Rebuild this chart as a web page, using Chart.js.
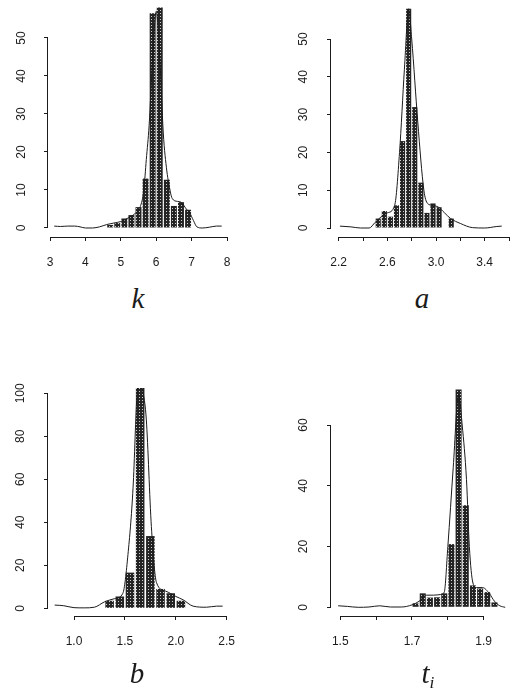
<!DOCTYPE html>
<html>
<head>
<meta charset="utf-8">
<script src="https://cdn.jsdelivr.net/npm/chart.js@4.4.1/dist/chart.umd.min.js"></script>
<style>
  html, body { margin: 0; padding: 0; background: #fff; }
  #page { position: relative; width: 516px; height: 693px; overflow: hidden; background: #fff; }
  #page canvas { position: absolute; }
  .xname {
    position: absolute;
    font: italic 29px "Liberation Serif", "DejaVu Serif", serif;
    line-height: 1;
    color: #1b1b1b;
    transform: translateX(-50%);
    white-space: nowrap;
  }
  .xname sub { font-size: 0.6em; vertical-align: -0.3em; }
</style>
</head>
<body>
<div id="page">
  <canvas id="panel-k" width="258" height="280" style="left:0;top:0"></canvas>
  <canvas id="panel-a" width="258" height="280" style="left:258px;top:0"></canvas>
  <canvas id="panel-b" width="258" height="330" style="left:0;top:330px"></canvas>
  <canvas id="panel-t" width="258" height="330" style="left:258px;top:330px"></canvas>
  <div class="xname" style="left:138px;top:284px">k</div>
  <div class="xname" style="left:422px;top:284px">a</div>
  <div class="xname" style="left:137px;top:659px">b</div>
  <div class="xname" style="left:428px;top:659px">t<sub>i</sub></div>
</div>
<script>
// histogram bins (bin centres) and heights, plus density curves
const kBins = [4.7, 4.9, 5.1, 5.3, 5.5, 5.7, 5.9, 6.1, 6.3, 6.5, 6.7, 6.9];
const kCounts = [0.8, 1.3, 2.5, 3.4, 5.5, 13, 56.5, 58, 12.7, 5.8, 6.8, 4.8];
const kCurveX = [3.12, 3.3, 3.5, 3.7, 3.85, 4.0, 4.2, 4.4, 4.6, 4.8, 5.0, 5.2, 5.4, 5.55, 5.65, 5.72, 5.8, 5.9, 6.0, 6.1, 6.2, 6.3, 6.35, 6.45, 6.6, 6.7, 6.85, 6.95, 7.05, 7.15, 7.3, 7.5, 7.7, 7.85];
const kCurveY = [0.5, 0.4, 0.5, 0.5, 0.3, 0.0, 0.0, 0.3, 0.9, 1.3, 1.7, 2.6, 3.8, 5.6, 10, 18, 27, 45, 57, 45, 25, 15, 12, 7.8, 7, 6.8, 5, 3.9, 2, 0.3, 0, 0.2, 0.5, 0.5];
const kTicks = [3, 4, 5, 6, 7, 8];
const kTickLabels = ['3', '4', '5', '6', '7', '8'];
const kYTicks = [0, 10, 20, 30, 40, 50];

const aBins = [2.525, 2.575, 2.625, 2.675, 2.725, 2.775, 2.825, 2.875, 2.925, 2.975, 3.025, 3.075, 3.125];
const aCounts = [2.5, 4.5, 3, 6, 23, 58, 32, 12, 4, 6.5, 5.5, 0, 2.5];
const aCurveX = [2.21, 2.3, 2.38, 2.45, 2.5, 2.55, 2.6, 2.66, 2.7, 2.74, 2.775, 2.8, 2.85, 2.9, 2.93, 2.97, 3.02, 3.07, 3.12, 3.2, 3.3, 3.4, 3.5, 3.54];
const aCurveY = [0.5, 0.3, 0, 0, 1.5, 3, 4, 6, 20, 42, 58, 50, 28, 10, 6.5, 6, 5.5, 4, 2.5, 1.2, 0.1, 0, 0.4, 0.5];
const aTicks = [2.2, 2.4, 2.6, 2.8, 3.0, 3.2, 3.4, 3.6];
const aTickLabels = ['2.2', '', '2.6', '', '3.0', '', '3.4', ''];
const aYTicks = [0, 10, 20, 30, 40, 50];

const bBins = [1.35, 1.45, 1.55, 1.65, 1.75, 1.85, 1.95, 2.05];
const bCounts = [3.5, 5.5, 16.6, 104, 33.6, 9, 7, 3.5];
const bCurveX = [0.81, 0.9, 1.0, 1.1, 1.2, 1.3, 1.4, 1.48, 1.53, 1.58, 1.62, 1.65, 1.68, 1.71, 1.76, 1.81, 1.9, 2.0, 2.07, 2.17, 2.3, 2.4, 2.46];
const bCurveY = [1.5, 1.2, 0.3, 0.2, 0.5, 3, 4.5, 7, 25, 56, 100, 106, 100, 88, 38, 12, 8, 5.5, 4, 1, 0.5, 1, 1];
const bTicks = [1.0, 1.5, 2.0, 2.5];
const bTickLabels = ['1.0', '1.5', '2.0', '2.5'];
const bYTicks = [0, 20, 40, 60, 80, 100];

const tBins = [1.71, 1.73, 1.75, 1.77, 1.79, 1.81, 1.83, 1.85, 1.87, 1.89, 1.91, 1.93];
const tCounts = [1.3, 4.6, 3.2, 3.3, 4.6, 20.8, 71.7, 33.6, 7.2, 6.2, 5, 1.6];
const tCurveX = [1.494, 1.52, 1.55, 1.58, 1.61, 1.64, 1.67, 1.7, 1.72, 1.74, 1.76, 1.78, 1.79, 1.8, 1.815, 1.83, 1.84, 1.852, 1.86, 1.87, 1.88, 1.897, 1.916, 1.93, 1.945, 1.96];
const tCurveY = [0.5, 0.3, 0, 0.1, 0.5, 0.1, 0.1, 0.8, 2, 4, 4, 4.2, 5, 20, 46, 70, 60, 42, 20, 8, 6.5, 6.5, 4.5, 2, 0.5, 0];
const tTicks = [1.5, 1.6, 1.7, 1.8, 1.9];
const tTickLabels = ['1.5', '', '1.7', '', '1.9'];
const tYTicks = [0, 20, 40, 60];

const INK = '#1b1b1b';
const tickFont = { family: '"Liberation Sans", Arial, sans-serif', size: 12 };

// area = plot box inside each canvas; x/y = axis ranges so ticks land where the scan has them
const panels = [
  { id: 'panel-k', bins: kBins, counts: kCounts, curveX: kCurveX, curveY: kCurveY,
    xTicks: kTicks, xLabels: kTickLabels, yTicks: kYTicks,
    area: { left: 48, top: 2, right: 232, bottom: 237 }, x: [2.9435, 8.141], y: [-2.37, 59.47], yPad: 16 },
  { id: 'panel-a', bins: aBins, counts: aCounts, curveX: aCurveX, curveY: aCurveY,
    xTicks: aTicks, xLabels: aTickLabels, yTicks: aYTicks,
    area: { left: 73, top: 2, right: 258, bottom: 237 }, x: [2.1367, 3.6572], y: [-2.38, 59.79], yPad: 17 },
  { id: 'panel-b', bins: bBins, counts: bCounts, curveX: bCurveX, curveY: bCurveY,
    xTicks: bTicks, xLabels: bTickLabels, yTicks: bYTicks,
    area: { left: 48, top: 58, right: 232, bottom: 286 }, x: [0.7446, 2.552], y: [-3.58, 102.47], yPad: 13 },
  { id: 'panel-t', bins: tBins, counts: tCounts, curveX: tCurveX, curveY: tCurveY,
    xTicks: tTicks, xLabels: tTickLabels, yTicks: tYTicks,
    area: { left: 73, top: 59, right: 258, bottom: 286 }, x: [1.4741, 1.9901], y: [-2.86, 71.86], yPad: 17 },
];

function pointsOf(xs, ys) {
  return xs.map((x, i) => ({ x, y: ys[i] }));
}

// scanned grey fill: dark with a sparse white dot grid
function stipple() {
  const c = document.createElement('canvas');
  c.width = 3;
  c.height = 3;
  const g = c.getContext('2d');
  g.fillStyle = '#242424';
  g.fillRect(0, 0, 3, 3);
  g.fillStyle = '#cfcfcf';
  g.fillRect(1, 1, 1, 1);
  return g.createPattern(c, 'repeat');
}

function noPadding(s) {
  s.paddingTop = 0;
  s.paddingBottom = 0;
  s.paddingLeft = 0;
  s.paddingRight = 0;
}

// R style axes: the axis line only runs from the first tick to the last one
const axisLines = {
  id: 'axisLines',
  afterDraw(chart) {
    const { ctx } = chart;
    const xs = chart.scales.x;
    const ys = chart.scales.y;
    const xt = xs.ticks;
    const yt = ys.ticks;
    ctx.save();
    ctx.strokeStyle = INK;
    ctx.lineWidth = 1;
    ctx.beginPath();
    const yy = Math.round(xs.top) + 0.5;
    ctx.moveTo(xs.getPixelForValue(xt[0].value), yy);
    ctx.lineTo(xs.getPixelForValue(xt[xt.length - 1].value), yy);
    const xx = Math.round(ys.right) - 0.5;
    ctx.moveTo(xx, ys.getPixelForValue(yt[0].value));
    ctx.lineTo(xx, ys.getPixelForValue(yt[yt.length - 1].value));
    ctx.stroke();
    ctx.restore();
  },
};

const fill = stipple();

for (const p of panels) {
  const canvas = document.getElementById(p.id);
  const W = canvas.width;
  const H = canvas.height;
  new Chart(canvas, {
    type: 'bar',
    data: {
      datasets: [
        {
          type: 'line',
          data: pointsOf(p.curveX, p.curveY),
          borderColor: INK,
          borderWidth: 1,
          pointRadius: 0,
          cubicInterpolationMode: 'monotone',
          fill: false,
          order: 0,
        },
        {
          type: 'bar',
          data: pointsOf(p.bins, p.counts),
          backgroundColor: fill,
          borderWidth: 0,
          categoryPercentage: 1,
          barPercentage: 0.84,
          order: 1,
        },
      ],
    },
    options: {
      responsive: false,
      animation: false,
      events: [],
      layout: { padding: { left: 0, top: p.area.top, right: W - p.area.right, bottom: 0 } },
      plugins: { legend: { display: false }, tooltip: { enabled: false } },
      scales: {
        x: {
          type: 'linear',
          position: 'bottom',
          min: p.x[0],
          max: p.x[1],
          offset: false,
          afterBuildTicks: (s) => { s.ticks = p.xTicks.map((v) => ({ value: v })); },
          afterFit: (s) => { s.height = H - p.area.bottom; noPadding(s); },
          grid: { display: true, drawOnChartArea: false, drawTicks: true, tickLength: 4, color: INK, offset: false },
          border: { display: false },
          ticks: {
            autoSkip: false,
            minRotation: 0,
            maxRotation: 0,
            padding: 14,
            color: INK,
            font: tickFont,
            callback: (v, i) => p.xLabels[i],
          },
        },
        y: {
          type: 'linear',
          position: 'left',
          min: p.y[0],
          max: p.y[1],
          afterBuildTicks: (s) => { s.ticks = p.yTicks.map((v) => ({ value: v })); },
          afterFit: (s) => { s.width = p.area.left; noPadding(s); },
          grid: { display: true, drawOnChartArea: false, drawTicks: true, tickLength: 4, color: INK },
          border: { display: false },
          ticks: {
            autoSkip: false,
            minRotation: 90,
            maxRotation: 90,
            crossAlign: 'center',
            padding: p.yPad,
            color: INK,
            font: tickFont,
            callback: (v, i) => String(p.yTicks[i]),
          },
        },
      },
    },
    plugins: [axisLines],
  });
}
</script>
</body>
</html>
